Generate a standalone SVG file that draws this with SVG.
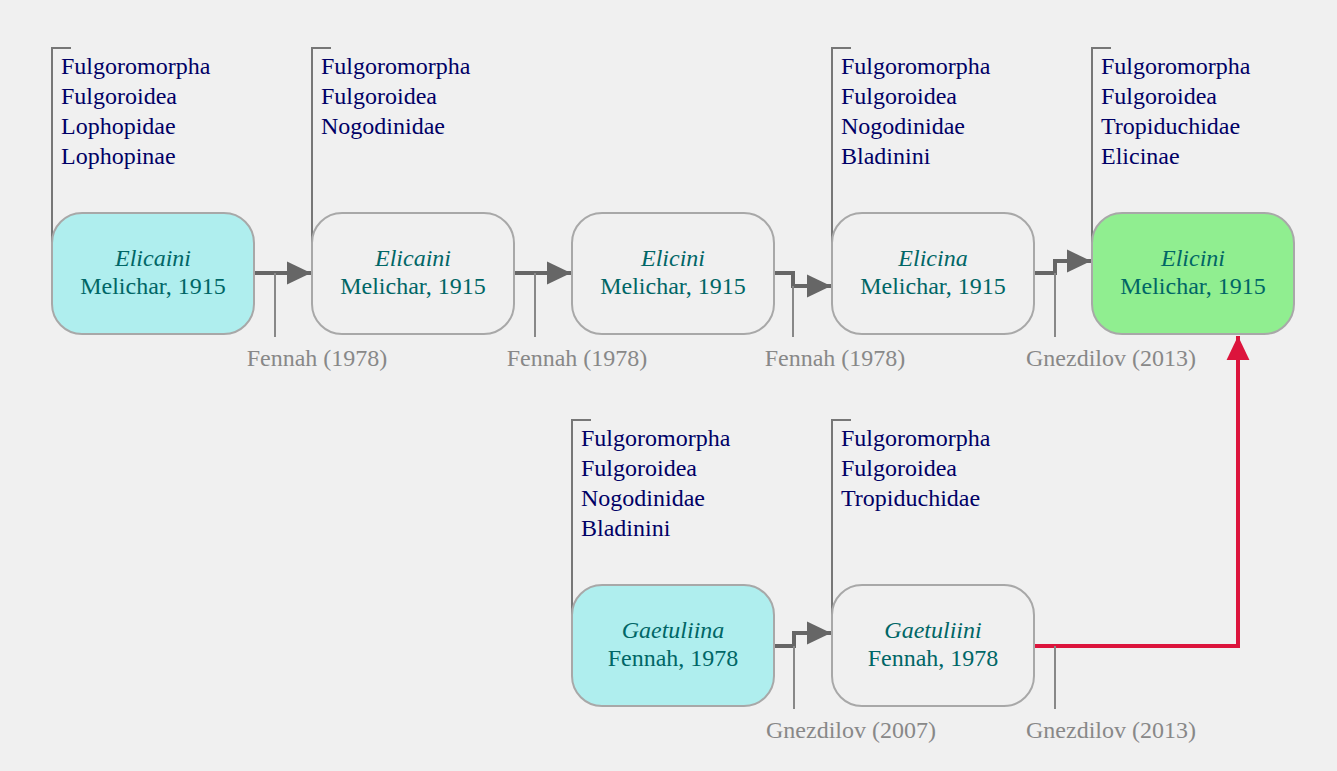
<svg xmlns="http://www.w3.org/2000/svg" width="1337" height="771" viewBox="0 0 1337 771">
<style>
.node{stroke:#a8a8a8;stroke-width:2}
.plain{fill:#f0f0f0}
.blue{fill:#afeeee}
.green{fill:#90ee90}
.name{font-family:"Liberation Serif","Times New Roman",serif;font-size:24px;fill:#006666;text-anchor:middle}
.it{font-style:italic}
.tax{font-family:"Liberation Serif","Times New Roman",serif;font-size:24px;fill:#000066}
.br{fill:none;stroke:#777;stroke-width:2}
.ref{font-family:"Liberation Serif","Times New Roman",serif;font-size:24px;fill:#888;text-anchor:middle}
.edge{fill:none;stroke:#666;stroke-width:4}
.red{fill:none;stroke:#dc143c;stroke-width:4}
.tick{stroke:#888;stroke-width:2}
</style>
<defs>
<marker id="ah" markerWidth="6" markerHeight="6" refX="5.25" refY="2.5" orient="auto" markerUnits="strokeWidth" viewBox="0 0 5.25 5">
<path d="M0,0 L5.25,2.5 L0,5 Z" fill="#666"/>
</marker>
<marker id="ahr" markerWidth="6" markerHeight="6" refX="5.25" refY="2.5" orient="auto" markerUnits="strokeWidth" viewBox="0 0 5.25 5">
<path d="M0,0 L5.25,2.5 L0,5 Z" fill="#dc143c"/>
</marker>
</defs>
<rect width="1337" height="771" fill="#f0f0f0"/>

<g id="connectors">
<path class="edge" d="M254,273 H311" marker-end="url(#ah)"/>
<line class="tick" x1="275" y1="273" x2="275" y2="337"/>
<text class="ref" x="317" y="366">Fennah (1978)</text>

<path class="edge" d="M514,273 H571" marker-end="url(#ah)"/>
<line class="tick" x1="535" y1="273" x2="535" y2="337"/>
<text class="ref" x="577" y="366">Fennah (1978)</text>

<path class="edge" d="M774,273 H793 V286 H831" marker-end="url(#ah)"/>
<line class="tick" x1="793" y1="286" x2="793" y2="337"/>
<text class="ref" x="835" y="366">Fennah (1978)</text>

<path class="edge" d="M1034,273 H1055 V261 H1091" marker-end="url(#ah)"/>
<line class="tick" x1="1055" y1="273" x2="1055" y2="337"/>
<text class="ref" x="1111" y="366">Gnezdilov (2013)</text>

<path class="edge" d="M774,646 H794 V633 H831" marker-end="url(#ah)"/>
<line class="tick" x1="794" y1="646" x2="794" y2="709"/>
<text class="ref" x="851" y="738">Gnezdilov (2007)</text>

<path class="red" d="M1034,646 H1238 V336" marker-end="url(#ahr)"/>
<line class="tick" x1="1055" y1="646" x2="1055" y2="709"/>
<text class="ref" x="1111" y="738">Gnezdilov (2013)</text>
</g>

<g id="n1">
<path class="br" d="M71,48 H52 V260"/>
<text class="tax" x="61" y="74">Fulgoromorpha</text>
<text class="tax" x="61" y="104">Fulgoroidea</text>
<text class="tax" x="61" y="134">Lophopidae</text>
<text class="tax" x="61" y="164">Lophopinae</text>
<rect class="node blue" x="52" y="213" width="202" height="121" rx="30"/>
<text class="name it" x="153" y="266">Elicaini</text>
<text class="name" x="153" y="294">Melichar, 1915</text>
</g>

<g id="n2">
<path class="br" d="M331,48 H312 V260"/>
<text class="tax" x="321" y="74">Fulgoromorpha</text>
<text class="tax" x="321" y="104">Fulgoroidea</text>
<text class="tax" x="321" y="134">Nogodinidae</text>
<rect class="node plain" x="312" y="213" width="202" height="121" rx="30"/>
<text class="name it" x="413" y="266">Elicaini</text>
<text class="name" x="413" y="294">Melichar, 1915</text>
</g>

<g id="n3">
<rect class="node plain" x="572" y="213" width="202" height="121" rx="30"/>
<text class="name it" x="673" y="266">Elicini</text>
<text class="name" x="673" y="294">Melichar, 1915</text>
</g>

<g id="n4">
<path class="br" d="M851,48 H832 V260"/>
<text class="tax" x="841" y="74">Fulgoromorpha</text>
<text class="tax" x="841" y="104">Fulgoroidea</text>
<text class="tax" x="841" y="134">Nogodinidae</text>
<text class="tax" x="841" y="164">Bladinini</text>
<rect class="node plain" x="832" y="213" width="202" height="121" rx="30"/>
<text class="name it" x="933" y="266">Elicina</text>
<text class="name" x="933" y="294">Melichar, 1915</text>
</g>

<g id="n5">
<path class="br" d="M1111,48 H1092 V260"/>
<text class="tax" x="1101" y="74">Fulgoromorpha</text>
<text class="tax" x="1101" y="104">Fulgoroidea</text>
<text class="tax" x="1101" y="134">Tropiduchidae</text>
<text class="tax" x="1101" y="164">Elicinae</text>
<rect class="node green" x="1092" y="213" width="202" height="121" rx="30"/>
<text class="name it" x="1193" y="266">Elicini</text>
<text class="name" x="1193" y="294">Melichar, 1915</text>
</g>

<g id="n6">
<path class="br" d="M591,420 H572 V632"/>
<text class="tax" x="581" y="446">Fulgoromorpha</text>
<text class="tax" x="581" y="476">Fulgoroidea</text>
<text class="tax" x="581" y="506">Nogodinidae</text>
<text class="tax" x="581" y="536">Bladinini</text>
<rect class="node blue" x="572" y="585" width="202" height="121" rx="30"/>
<text class="name it" x="673" y="638">Gaetuliina</text>
<text class="name" x="673" y="666">Fennah, 1978</text>
</g>

<g id="n7">
<path class="br" d="M851,420 H832 V632"/>
<text class="tax" x="841" y="446">Fulgoromorpha</text>
<text class="tax" x="841" y="476">Fulgoroidea</text>
<text class="tax" x="841" y="506">Tropiduchidae</text>
<rect class="node plain" x="832" y="585" width="202" height="121" rx="30"/>
<text class="name it" x="933" y="638">Gaetuliini</text>
<text class="name" x="933" y="666">Fennah, 1978</text>
</g>
</svg>
